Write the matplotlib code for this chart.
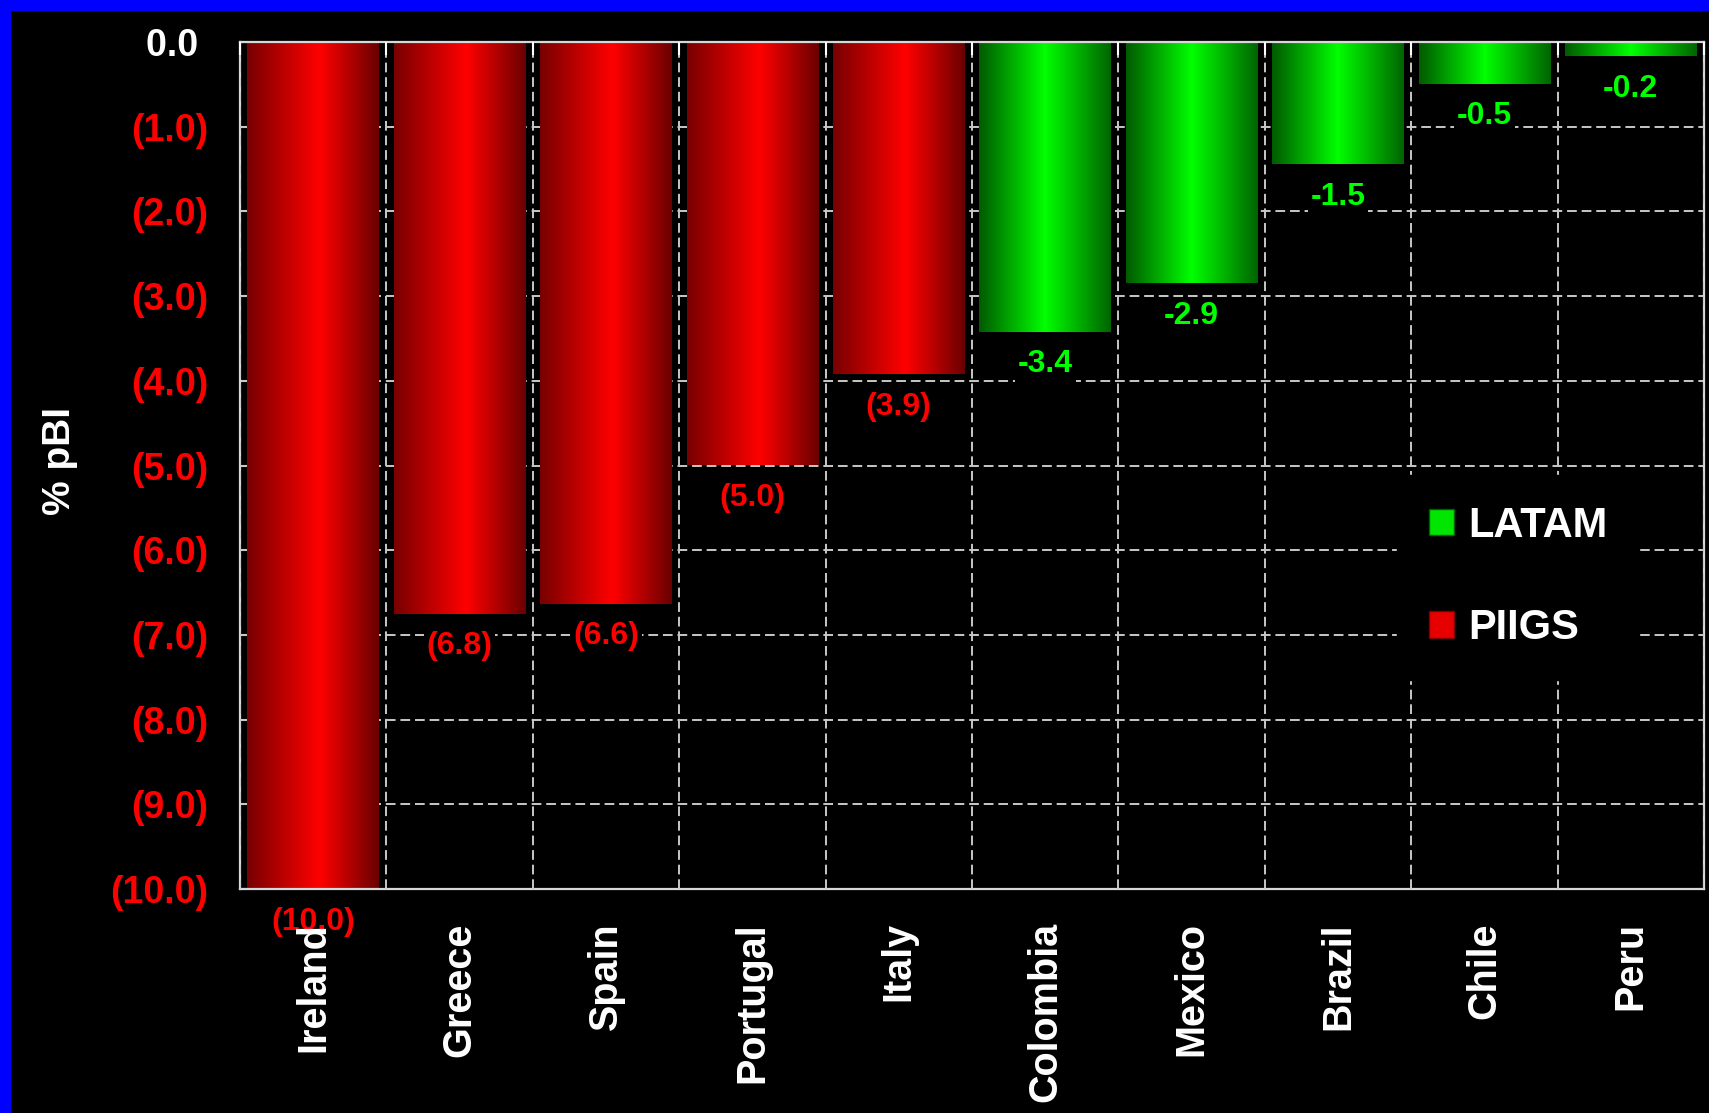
import numpy as np
import matplotlib.pyplot as plt
from matplotlib.colors import LinearSegmentedColormap
from matplotlib.patches import Patch, Rectangle

plt.rcParams["font.family"] = ["Liberation Sans", "DejaVu Sans"]
plt.rcParams["font.weight"] = "bold"

# ── Data ───────────────────────────────────────────────────────────────────
countries = ["Ireland", "Greece", "Spain", "Portugal", "Italy",
             "Colombia", "Mexico", "Brazil", "Chile", "Peru"]
values = [-10.0, -6.75, -6.63, -5.0, -3.92, -3.42, -2.85, -1.44, -0.49, -0.17]
value_labels = ["(10.0)", "(6.8)", "(6.6)", "(5.0)", "(3.9)",
                "-3.4", "-2.9", "-1.5", "-0.5", "-0.2"]
groups = ["PIIGS"] * 5 + ["LATAM"] * 5
yticks = [0, -1, -2, -3, -4, -5, -6, -7, -8, -9, -10]

RED, GREEN = "#ff0000", "#00ff00"
GRID = "#c8c8c8"
cmaps = {
    "PIIGS": LinearSegmentedColormap.from_list(
        "piigs", [(0, "#780000"), (0.55, "#ff0000"), (1, "#6a0000")]),
    "LATAM": LinearSegmentedColormap.from_list(
        "latam", [(0, "#005a00"), (0.5, "#00ff00"), (1, "#006400")]),
}

# ── Figure ─────────────────────────────────────────────────────────────────
W, H = 1709, 1113
fig = plt.figure(figsize=(W / 100, H / 100), dpi=100, facecolor="black")
fig.add_artist(Rectangle((0, 1 - 10 / H), 1, 10 / H, transform=fig.transFigure,
                         color="#0000ff", zorder=10))
fig.add_artist(Rectangle((0, 0), 10 / W, 1, transform=fig.transFigure,
                         color="#0000ff", zorder=10))

ax = fig.add_axes([240 / W, 1 - 889 / H, 1464 / W, 847 / H])
ax.set_facecolor("black")

x = np.arange(len(countries))
bars = ax.bar(x, values, width=0.9, color="none", zorder=1)
grad = np.linspace(0, 1, 256).reshape(1, -1)
for bar, grp in zip(bars, groups):
    x0, w, h = bar.get_x(), bar.get_width(), bar.get_height()
    ax.imshow(grad, cmap=cmaps[grp], extent=[x0, x0 + w, h, 0],
              aspect="auto", interpolation="bilinear", zorder=1)

ax.set_xlim(-0.5, len(countries) - 0.5)
ax.set_ylim(-10, 0)

# data labels (black box hides the grid behind them)
for bar, v, txt, grp in zip(bars, values, value_labels, groups):
    col = RED if grp == "PIIGS" else GREEN
    ax.annotate(txt, xy=(bar.get_x() + bar.get_width() / 2, v),
                xytext=(0, -23.5), textcoords="offset points",
                ha="center", va="center", fontsize=23, fontweight="bold",
                color=col, zorder=2, annotation_clip=False,
                bbox=dict(facecolor="black", edgecolor="none", pad=2))

# y axis
ax.set_yticks(yticks)
ax.set_yticklabels(["0.0 " if t == 0 else f"({abs(t):.1f})" for t in yticks],
                   fontsize=27, fontweight="bold")
for lbl, t in zip(ax.get_yticklabels(), yticks):
    lbl.set_color("white" if t == 0 else RED)
ax.tick_params(axis="y", direction="in", length=5, width=1.5, color=GRID, pad=23)

# x axis
ax.set_xticks(x)
ax.set_xticklabels(countries, rotation=90, fontsize=28.5, fontweight="bold",
                   color="white")
ax.set_xticks(np.arange(-0.5, len(countries)), minor=True)
ax.tick_params(axis="x", which="major", length=0, pad=24)
ax.tick_params(axis="x", which="minor", top=True, bottom=False, direction="in",
               length=9, width=1.5, color="white")

ax.set_axisbelow(True)
ax.xaxis.set_zorder(3)   # country names sit on top of the "(10.0)" label
ax.grid(axis="y", which="major", color=GRID, linestyle=(0, (5, 2.5)), linewidth=1.4)
ax.grid(axis="x", which="minor", color=GRID, linestyle=(0, (5, 2.5)), linewidth=1.4)
for s in ax.spines.values():
    s.set_color("#d8d8d8")
    s.set_linewidth(1.6)

fig.text(60 / W, 1 - 461 / H, "% pBI", rotation=90, ha="center", va="center",
         fontsize=28, fontweight="bold", color="white")

handles = [Patch(facecolor="#00e600", edgecolor="#006000", label="LATAM"),
           Patch(facecolor="#e60000", edgecolor="#800000", label="PIIGS")]
leg = ax.legend(handles=handles, loc="center",
                bbox_to_anchor=(1518 / W, 1 - 577 / H), bbox_transform=fig.transFigure,
                frameon=True, facecolor="black", edgecolor="black", framealpha=1,
                fancybox=False, prop={"size": 30, "weight": "bold"},
                handlelength=0.6, handleheight=0.6, handletextpad=0.35,
                labelspacing=1.5, borderpad=0.75)
leg.set_zorder(5)
for t in leg.get_texts():
    t.set_color("white")

fig.savefig("out.png", dpi=100, facecolor="black")
